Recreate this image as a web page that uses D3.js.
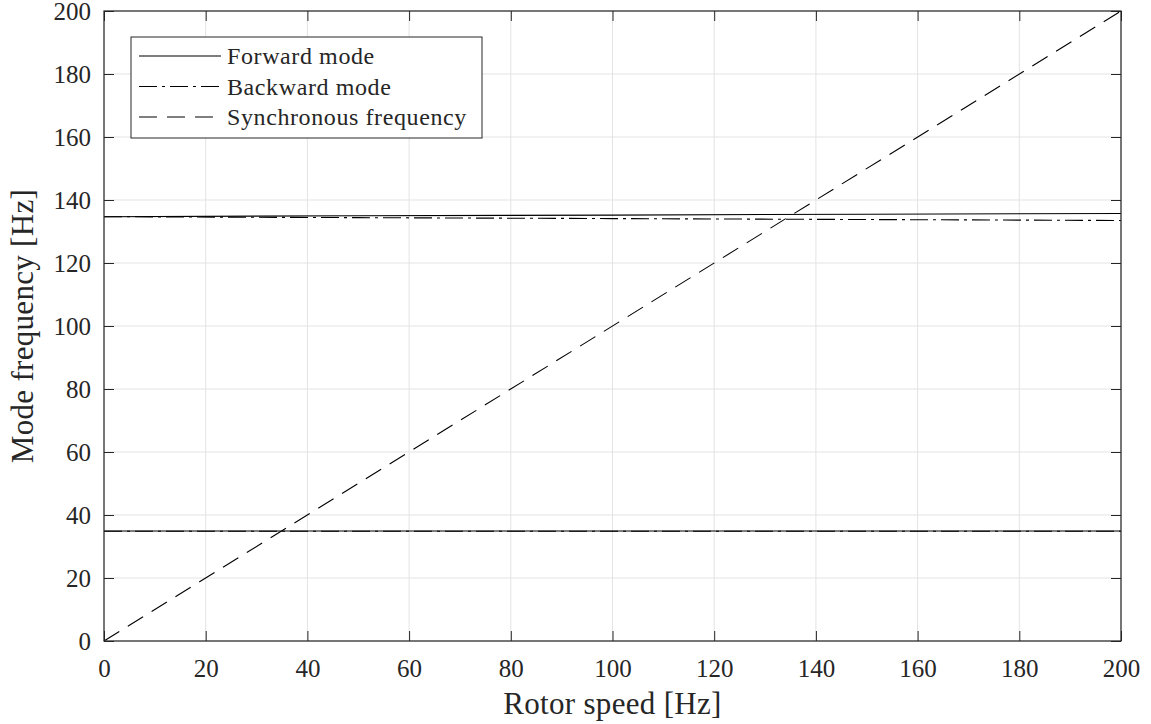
<!DOCTYPE html>
<html><head><meta charset="utf-8">
<script src="https://cdn.jsdelivr.net/npm/d3@7"></script>
<style>body{margin:0;background:#fff}svg{display:block}text{font-family:"Liberation Serif","DejaVu Serif",serif;fill:#262626}</style>
</head><body><svg id="c" width="1151" height="724"></svg>
<script>
const speed = [0, 50, 100, 150, 200];
const fwdHigh = [134.7, 135.0, 135.2, 135.5, 135.7];
const bwdHigh = [134.7, 134.4, 134.1, 133.8, 133.5];
const fwdLow = [34.9, 34.9, 34.9, 34.9, 34.9];
const bwdLow = [34.85, 34.85, 34.85, 34.85, 34.85];
const syncX = [0, 200];
const syncY = [0, 200];
const xTicks = [0,20,40,60,80,100,120,140,160,180,200];
const yTicks = [0,20,40,60,80,100,120,140,160,180,200];
const legendLabels = ["Forward mode","Backward mode","Synchronous frequency"];

const svg = d3.select("#c");
const L=104, R=1121, T=11, B=641;
const x = d3.scaleLinear().domain([0,200]).range([L,R]);
const y = d3.scaleLinear().domain([0,200]).range([B,T]);

// grid
const g = svg.append("g");
g.selectAll(".gx").data(xTicks).enter().append("line").attr("x1",d=>x(d)).attr("x2",d=>x(d)).attr("y1",T).attr("y2",B).attr("stroke","#e3e3e3").attr("stroke-width",1);
g.selectAll(".gy").data(yTicks).enter().append("line").attr("y1",d=>y(d)).attr("y2",d=>y(d)).attr("x1",L).attr("x2",R).attr("stroke","#e3e3e3").attr("stroke-width",1);

const line = d3.line().x(d=>x(d[0])).y(d=>y(d[1]));
const zip = (a,b)=>a.map((v,i)=>[v,b[i]]);
const styles = {solid:null, dashdot:"18,5,3,5", dash:"18,10"};
function draw(xs, ys, dash){
  svg.append("path").datum(zip(xs,ys)).attr("d",line).attr("fill","none").attr("stroke","#000").attr("stroke-width",1.1).attr("stroke-dasharray",dash);
}
draw(speed,fwdHigh,styles.solid);
draw(speed,bwdHigh,styles.dashdot);
draw(speed,fwdLow,styles.solid);
draw(speed,bwdLow,styles.dashdot);
draw(syncX,syncY,styles.dash);

// axes
const fs = 25;
const xa = d3.axisBottom(x).tickValues(xTicks).tickSize(-10).tickPadding(0).tickFormat(d3.format("d"));
const ya = d3.axisLeft(y).tickValues(yTicks).tickSize(-10).tickPadding(0).tickFormat(d3.format("d"));
const xt = d3.axisTop(x).tickValues(xTicks).tickSize(-10).tickFormat("");
const yr = d3.axisRight(y).tickValues(yTicks).tickSize(-10).tickFormat("");
function style(sel){sel.select(".domain").remove();sel.selectAll(".tick line").attr("stroke","#262626");sel.selectAll("text").style("font-size",fs+"px").attr("fill","#262626");}
svg.append("g").attr("transform",`translate(0,${B})`).call(xa).call(style).selectAll("text").attr("y",36).attr("dy",0);
svg.append("g").attr("transform",`translate(${L},0)`).call(ya).call(style).selectAll("text").attr("x",-13).attr("dy","0.34em");
svg.append("g").attr("transform",`translate(0,${T})`).call(xt).call(style);
svg.append("g").attr("transform",`translate(${R},0)`).call(yr).call(style);
svg.append("rect").attr("x",L).attr("y",T).attr("width",R-L).attr("height",B-T).attr("fill","none").attr("stroke","#262626").attr("stroke-width",1.2);

svg.append("text").attr("x",(L+R)/2).attr("y",714).attr("text-anchor","middle").style("font-size","31px").style("letter-spacing","0.3px").text("Rotor speed [Hz]");
svg.append("text").attr("transform",`translate(33,${(T+B)/2}) rotate(-90)`).attr("text-anchor","middle").style("font-size","31px").style("letter-spacing","0.3px").text("Mode frequency [Hz]");

// legend
const lg = svg.append("g");
lg.append("rect").attr("x",131).attr("y",37).attr("width",351).attr("height",101).attr("fill","#fff").attr("stroke","#262626").attr("stroke-width",1);
const ld = [styles.solid, styles.dashdot, styles.dash];
legendLabels.forEach((t,i)=>{
  const yy = 56 + i*30.5;
  lg.append("line").attr("x1",139).attr("x2",221).attr("y1",yy).attr("y2",yy).attr("stroke","#000").attr("stroke-width",1.1).attr("stroke-dasharray",ld[i]);
  lg.append("text").attr("x",227).attr("y",yy).attr("dy","0.34em").style("font-size","24px").style("letter-spacing","0.6px").text(t);
});
</script></body></html>
